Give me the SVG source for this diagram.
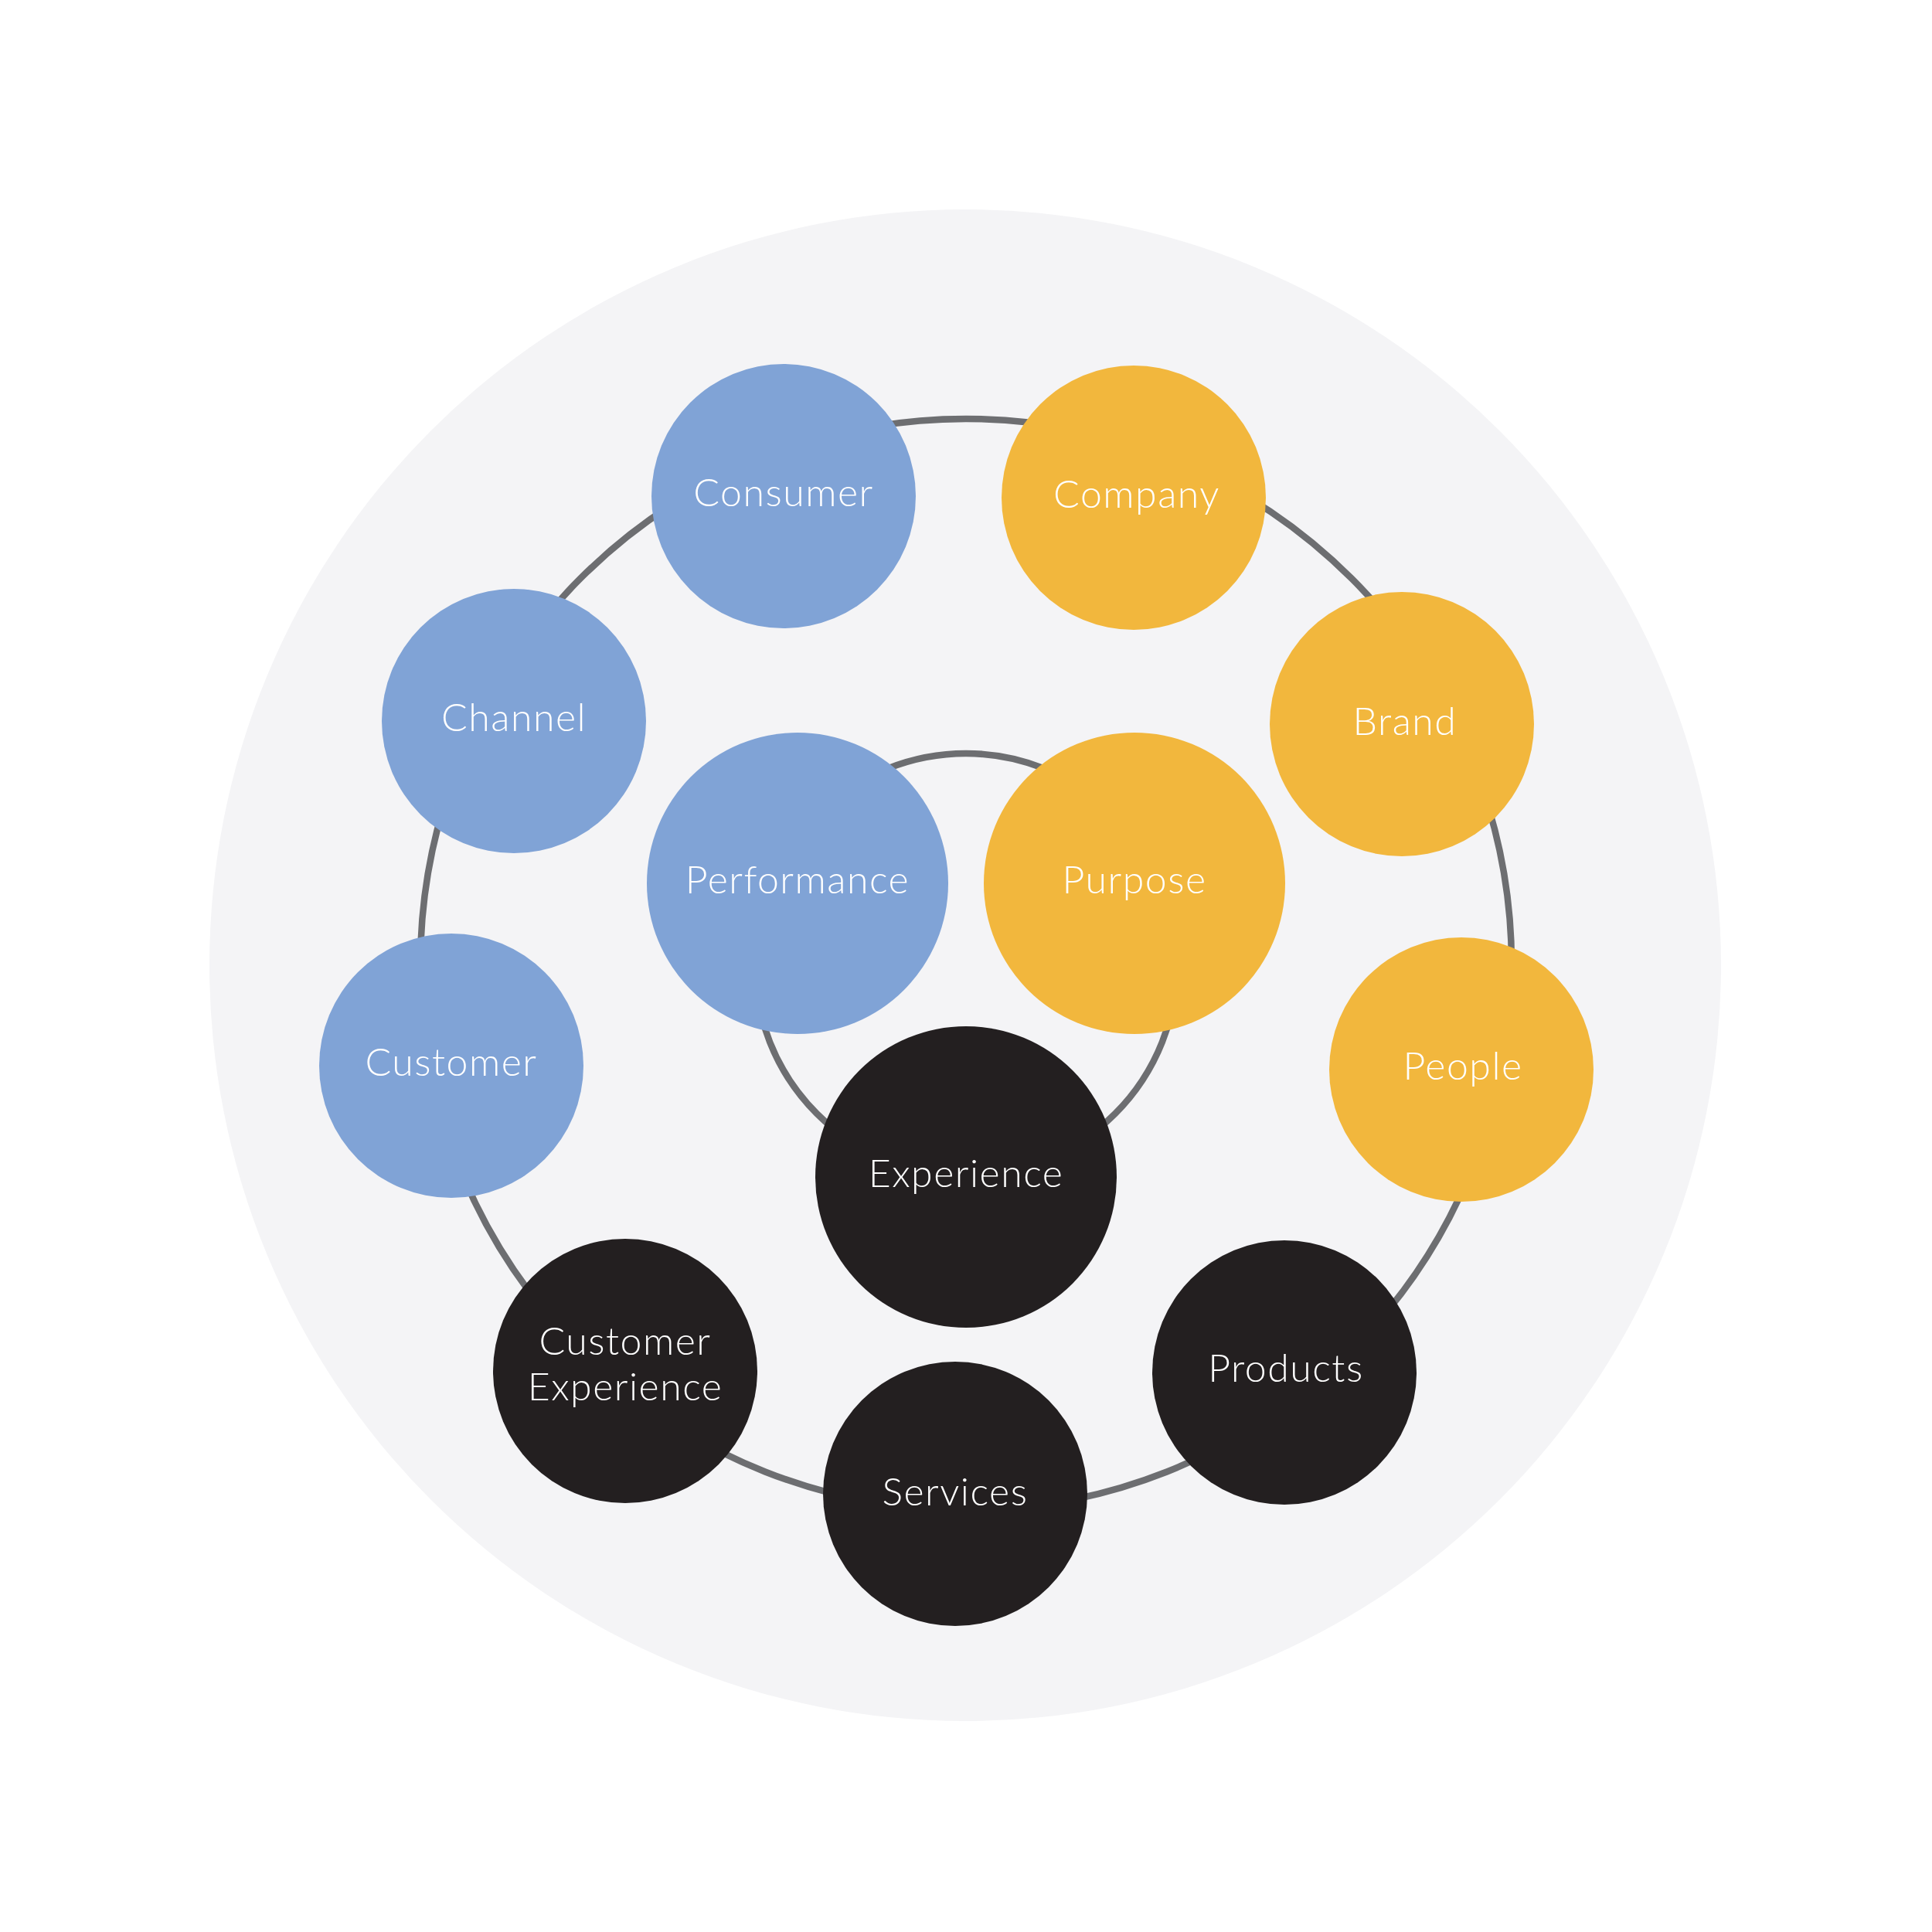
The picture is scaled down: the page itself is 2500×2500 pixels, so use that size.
<svg xmlns="http://www.w3.org/2000/svg" width="2500" height="2500" viewBox="0 0 2500 2500">
<style>
.ring{fill:none;stroke:#6D6E71;stroke-width:8.5}
.blue{fill:#80A3D6}
.yellow{fill:#F2B73D}
.black{fill:#231F20}
.lbl{font-family:Lato,"Noto Sans",sans-serif;font-size:50px;font-weight:300;fill:#FFFFFF;text-anchor:middle;letter-spacing:1.5px}
</style>
<rect width="2500" height="2500" fill="#FFFFFF"/>
<circle cx="1249" cy="1249" r="978" fill="#F4F4F6"/>
<g id="connectors">
<circle class="ring" cx="1250" cy="1248" r="706"/>
<circle class="ring" cx="1250" cy="1248" r="273"/>
</g>
<g id="consumer"><circle class="blue" cx="1014" cy="642" r="171"/><text class="lbl" x="1014" y="655">Consumer</text></g>
<g id="company"><circle class="yellow" cx="1467" cy="644" r="171"/><text class="lbl" x="1471" y="657">Company</text></g>
<g id="channel"><circle class="blue" cx="665" cy="933" r="171"/><text class="lbl" x="665" y="946">Channel</text></g>
<g id="brand"><circle class="yellow" cx="1814" cy="937" r="171"/><text class="lbl" x="1818" y="951">Brand</text></g>
<g id="performance"><circle class="blue" cx="1032" cy="1143" r="195"/><text class="lbl" x="1032" y="1156">Performance</text></g>
<g id="purpose"><circle class="yellow" cx="1468" cy="1143" r="195"/><text class="lbl" x="1468" y="1156">Purpose</text></g>
<g id="customer"><circle class="blue" cx="584" cy="1379" r="171"/><text class="lbl" x="584" y="1392">Customer</text></g>
<g id="people"><circle class="yellow" cx="1891" cy="1384" r="171"/><text class="lbl" x="1893" y="1397">People</text></g>
<g id="experience"><circle class="black" cx="1250" cy="1523" r="195"/><text class="lbl" x="1250" y="1536">Experience</text></g>
<g id="customer-experience"><circle class="black" cx="809" cy="1774" r="171"/><text class="lbl" x="809" y="1753">Customer</text><text class="lbl" x="809" y="1812">Experience</text></g>
<g id="products"><circle class="black" cx="1662" cy="1776" r="171"/><text class="lbl" x="1664" y="1788">Products</text></g>
<g id="services"><circle class="black" cx="1236" cy="1933" r="171"/><text class="lbl" x="1236" y="1948">Services</text></g>
</svg>
